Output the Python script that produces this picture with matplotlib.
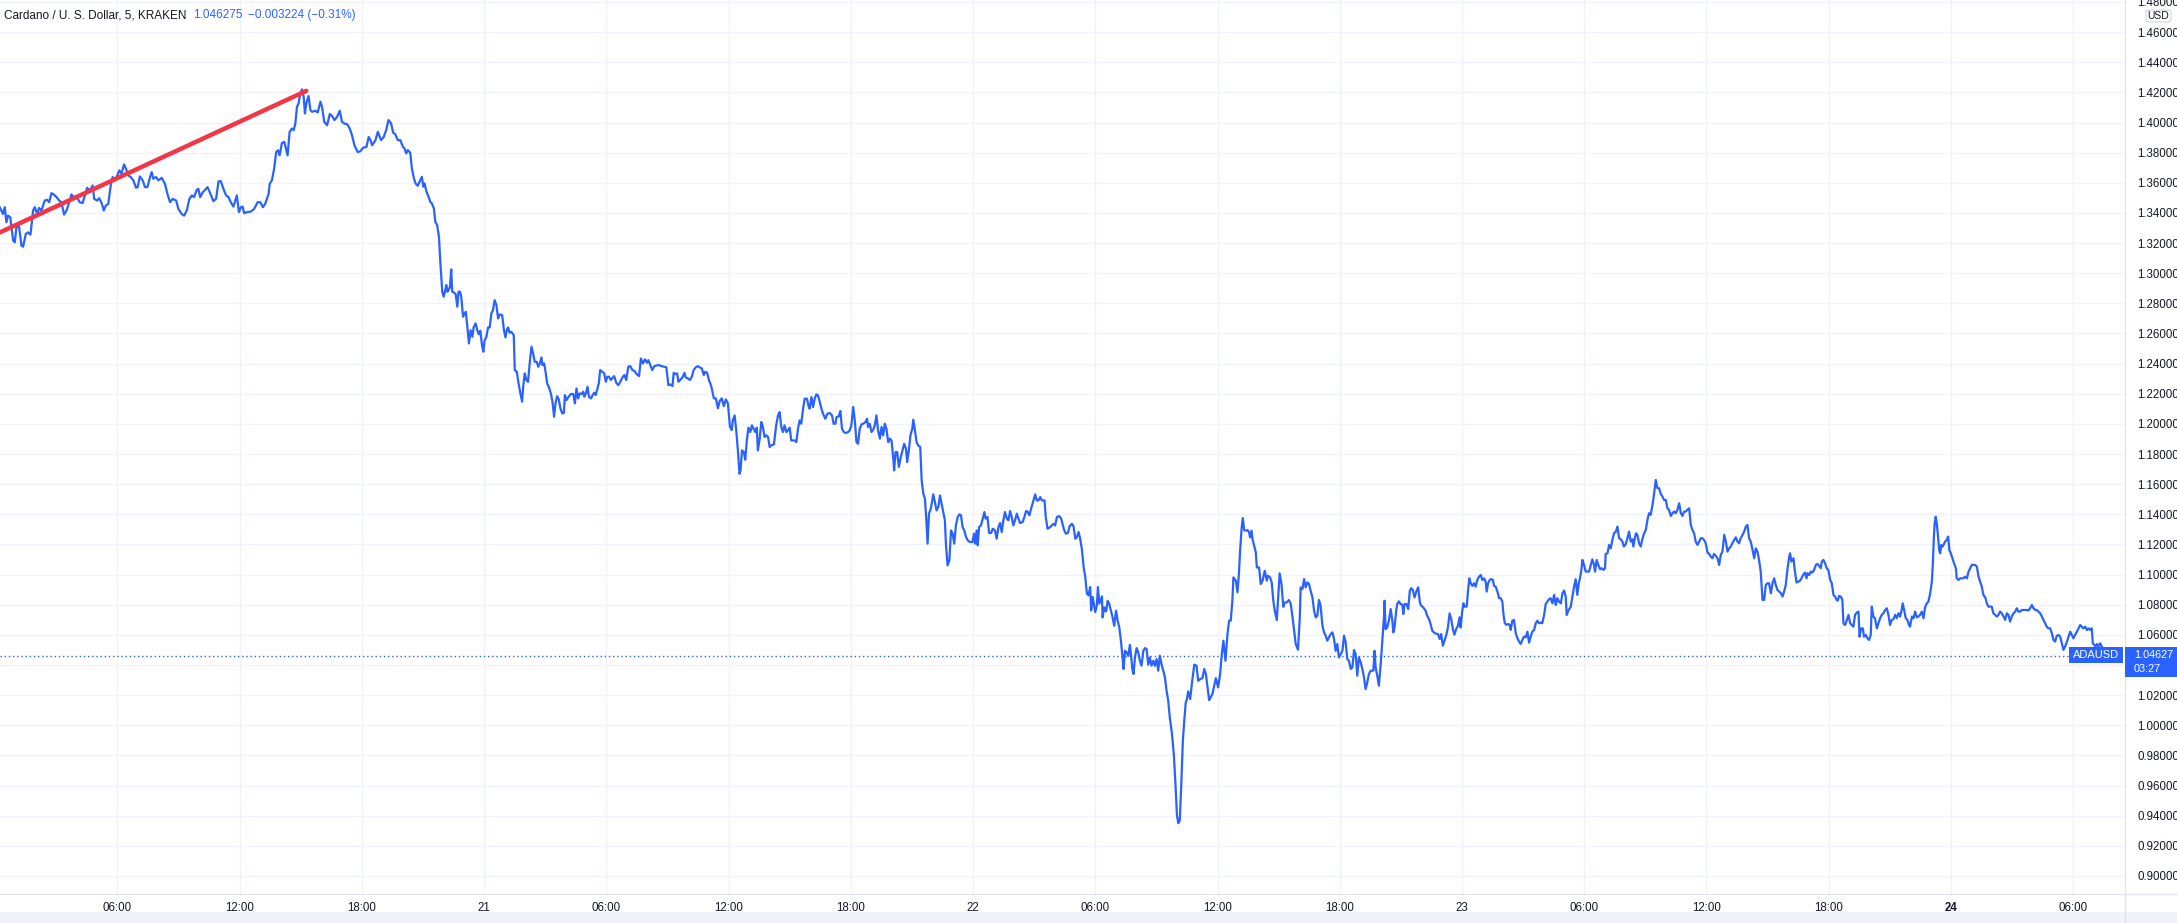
import matplotlib
matplotlib.use("Agg")
import matplotlib.pyplot as plt
from matplotlib.patches import Rectangle, FancyBboxPatch
from matplotlib.lines import Line2D

# ADA/USD 5-minute closes (hours since day 20 00:00)
hours = [
    # day 20
    0.23, 0.39, 0.48, 0.56, 0.64, 0.75, 0.89, 0.97, 1.05, 1.18, 1.30, 1.38, 1.51, 1.62, 1.74, 1.87, 1.95,
    2.07, 2.16, 2.28, 2.44, 2.56, 2.66, 2.77, 2.89, 3.02, 3.15, 3.26, 3.39, 3.51, 3.67, 3.75, 3.87, 4.00,
    4.16, 4.30, 4.41, 4.52, 4.66, 4.79, 4.87, 5.02, 5.11, 5.23, 5.34, 5.44, 5.56, 5.69, 5.77, 5.87, 5.97,
    6.10, 6.21, 6.33, 6.43, 6.54, 6.66, 6.79, 6.92, 7.00, 7.11, 7.25, 7.36, 7.48, 7.61, 7.69, 7.77, 7.90,
    8.02, 8.18, 8.34, 8.46, 8.59, 8.72, 8.89, 9.00, 9.16, 9.28, 9.41, 9.54, 9.66, 9.77, 9.90, 9.98, 10.07,
    10.20, 10.31, 10.43, 10.56, 10.72, 10.85, 10.97, 11.08, 11.21, 11.34, 11.46, 11.57, 11.70, 11.87, 11.97,
    12.07, 12.15, 12.23, 12.36, 12.56, 12.72, 12.89, 13.02, 13.15, 13.26, 13.43, 13.48, 13.59, 13.70, 13.80,
    13.89, 13.97, 14.08, 14.20, 14.36, 14.46, 14.57, 14.66, 14.74, 14.82, 14.90, 14.98, 15.07, 15.15, 15.21,
    15.28, 15.39, 15.48, 15.56, 15.72, 15.84, 15.97, 16.05, 16.16, 16.30, 16.43, 16.54, 16.66, 16.79, 16.92,
    17.03, 17.15, 17.28, 17.41, 17.52, 17.64, 17.80, 17.93, 18.07, 18.23, 18.34, 18.43, 18.51, 18.67, 18.79,
    18.95, 19.08, 19.20, 19.31, 19.44, 19.54, 19.64, 19.77, 19.89, 20.02, 20.10, 20.18, 20.26, 20.38, 20.46,
    20.56, 20.64, 20.75, 20.84, 20.95, 21.02, 21.08, 21.18, 21.28, 21.36, 21.44, 21.54, 21.61, 21.70, 21.79,
    21.85, 21.90, 21.95, 22.02, 22.10, 22.15, 22.20, 22.26, 22.33, 22.39, 22.44, 22.52, 22.61, 22.69, 22.75,
    22.82, 22.88, 22.97, 23.05, 23.11, 23.18, 23.26, 23.34, 23.43, 23.49, 23.59, 23.67, 23.74, 23.82, 23.90,
    23.97,
    # day 21
    24.03, 24.11, 24.20, 24.28, 24.36, 24.44, 24.52, 24.61, 24.69, 24.77, 24.89, 24.98, 25.05, 25.13,
    25.18, 25.26, 25.34, 25.46, 25.51, 25.61, 25.67, 25.77, 25.87, 25.93, 26.00, 26.08, 26.16, 26.25, 26.33,
    26.41, 26.49, 26.59, 26.66, 26.74, 26.82, 26.87, 26.95, 27.02, 27.10, 27.18, 27.28, 27.36, 27.44, 27.51,
    27.59, 27.67, 27.75, 27.84, 27.92, 27.97, 28.05, 28.13, 28.26, 28.38, 28.46, 28.54, 28.62, 28.70, 28.79,
    28.87, 28.92, 29.00, 29.08, 29.15, 29.25, 29.33, 29.41, 29.48, 29.57, 29.64, 29.70, 29.80, 29.90, 29.98,
    30.05, 30.13, 30.23, 30.29, 30.39, 30.49, 30.59, 30.69, 30.79, 30.89, 30.98, 31.08, 31.18, 31.28, 31.38,
    31.49, 31.61, 31.70, 31.80, 31.90, 32.00, 32.07, 32.16, 32.26, 32.36, 32.48, 32.59, 32.72, 32.85, 32.95,
    33.05, 33.15, 33.25, 33.31, 33.38, 33.48, 33.54, 33.62, 33.74, 33.84, 33.90, 34.00, 34.10, 34.20, 34.29,
    34.39, 34.49, 34.59, 34.69, 34.79, 34.85, 34.95, 35.05, 35.11, 35.18, 35.28, 35.38, 35.48, 35.57, 35.67,
    35.77, 35.87, 35.97, 36.07, 36.16, 36.21, 36.30, 36.38, 36.46, 36.54, 36.59, 36.66, 36.75, 36.82, 36.90,
    36.98, 37.07, 37.15, 37.23, 37.31, 37.39, 37.44, 37.53, 37.61, 37.69, 37.77, 37.85, 37.94, 38.02, 38.10,
    38.23, 38.34, 38.43, 38.51, 38.59, 38.67, 38.75, 38.84, 38.92, 39.00, 39.08, 39.16, 39.25, 39.33, 39.41,
    39.49, 39.57, 39.66, 39.74, 39.85, 39.94, 39.98, 40.07, 40.15, 40.23, 40.31, 40.39, 40.48, 40.56, 40.64,
    40.75, 40.85, 40.97, 41.08, 41.16, 41.25, 41.30, 41.41, 41.49, 41.57, 41.66, 41.75, 41.87, 41.95, 42.03,
    42.12, 42.20, 42.28, 42.36, 42.44, 42.53, 42.61, 42.72, 42.80, 42.85, 42.93, 43.02, 43.10, 43.18, 43.26,
    43.34, 43.43, 43.51, 43.59, 43.67, 43.75, 43.84, 43.92, 44.00, 44.08, 44.13, 44.20, 44.28, 44.36, 44.44,
    44.54, 44.62, 44.71, 44.77, 44.85, 44.93, 45.02, 45.07, 45.15, 45.23, 45.31, 45.41, 45.48, 45.56, 45.64,
    45.71, 45.77, 45.84, 45.93, 46.05, 46.13, 46.21, 46.30, 46.38, 46.46, 46.54, 46.62, 46.67, 46.75, 46.84,
    46.92, 47.00, 47.08, 47.16, 47.25, 47.33, 47.41, 47.49, 47.57, 47.66, 47.74, 47.85, 47.97,
    # day 22
    48.05, 48.10, 48.18, 48.23, 48.30, 48.39, 48.48, 48.56, 48.62, 48.71, 48.79, 48.89, 48.97, 49.08,
    49.16, 49.25, 49.33, 49.41, 49.49, 49.57, 49.66, 49.74, 49.82, 49.90, 49.98, 50.07, 50.15, 50.23, 50.31,
    50.44, 50.52, 50.61, 50.69, 50.77, 50.85, 50.97, 51.05, 51.13, 51.21, 51.30, 51.38, 51.51, 51.57, 51.66,
    51.79, 51.87, 51.95, 52.03, 52.12, 52.23, 52.33, 52.39, 52.48, 52.56, 52.66, 52.74, 52.85, 52.93, 53.02,
    53.10, 53.18, 53.26, 53.34, 53.43, 53.51, 53.59, 53.67, 53.75, 53.80, 53.87, 53.93, 54.00, 54.08, 54.13,
    54.20, 54.26, 54.33, 54.36, 54.44, 54.53, 54.61, 54.69, 54.77, 54.85, 54.93, 55.02, 55.10, 55.18, 55.26,
    55.34, 55.39, 55.46, 55.54, 55.62, 55.70, 55.75, 55.82, 55.88, 55.95, 56.03, 56.11, 56.19, 56.27, 56.36,
    56.44, 56.52, 56.60, 56.68, 56.76, 56.85, 56.93, 57.01, 57.09, 57.17, 57.25, 57.34, 57.42, 57.50, 57.58,
    57.66, 57.76, 57.86, 57.94, 58.01, 58.08, 58.15, 58.22, 58.30, 58.38, 58.44, 58.50, 58.56, 58.66, 58.74,
    58.86, 58.97, 59.05, 59.15, 59.26, 59.35, 59.43, 59.51, 59.59, 59.75, 59.92, 60.03, 60.13, 60.21, 60.29,
    60.39, 60.49, 60.57, 60.65, 60.73, 60.78, 60.90, 60.98, 61.05, 61.11, 61.18, 61.24, 61.31, 61.39, 61.47,
    61.55, 61.60, 61.67, 61.72, 61.80, 61.88, 61.93, 62.04, 62.12, 62.21, 62.32, 62.42, 62.48, 62.58, 62.66,
    62.74, 62.81, 62.91, 62.97, 63.05, 63.14, 63.23, 63.30, 63.40, 63.50, 63.59, 63.68, 63.76, 63.84, 63.95,
    64.04, 64.08, 64.17, 64.25, 64.33, 64.41, 64.49, 64.57, 64.66, 64.74, 64.82, 64.90, 64.98, 65.06, 65.15,
    65.23, 65.31, 65.39, 65.47, 65.55, 65.64, 65.72, 65.80, 65.88, 65.96, 66.05, 66.13, 66.21, 66.29, 66.37,
    66.45, 66.54, 66.62, 66.70, 66.78, 66.86, 66.94, 67.03, 67.11, 67.19, 67.27, 67.35, 67.43, 67.52, 67.65,
    67.71, 67.76, 67.84, 67.92, 68.01, 68.09, 68.17, 68.20, 68.25, 68.33, 68.41, 68.50, 68.58, 68.63, 68.69,
    68.77, 68.82, 68.90, 68.99, 69.07, 69.12, 69.18, 69.28, 69.36, 69.44, 69.51, 69.59, 69.67, 69.77, 69.85,
    69.93, 70.00, 70.10, 70.21, 70.29, 70.38, 70.46, 70.54, 70.62, 70.70, 70.82, 70.91, 70.98, 71.06, 71.14,
    71.22, 71.31, 71.39, 71.47, 71.55, 71.63, 71.71, 71.80, 71.88, 71.93,
    # day 23
    72.02, 72.07, 72.13, 72.23, 72.30, 72.36, 72.43, 72.51, 72.59, 72.67, 72.75, 72.84, 72.92, 73.00,
    73.08, 73.16, 73.21, 73.28, 73.36, 73.44, 73.52, 73.57, 73.65, 73.74, 73.82, 73.90, 73.98, 74.03, 74.10,
    74.18, 74.26, 74.34, 74.39, 74.47, 74.55, 74.64, 74.72, 74.80, 74.88, 74.96, 75.04, 75.13, 75.21, 75.29,
    75.37, 75.45, 75.54, 75.62, 75.70, 75.78, 75.86, 75.94, 76.03, 76.11, 76.19, 76.27, 76.35, 76.44, 76.52,
    76.60, 76.68, 76.76, 76.85, 76.93, 77.01, 77.09, 77.14, 77.22, 77.34, 77.42, 77.50, 77.58, 77.66, 77.73,
    77.79, 77.86, 77.91, 77.99, 78.07, 78.15, 78.24, 78.32, 78.40, 78.48, 78.53, 78.61, 78.69, 78.78, 78.86,
    78.94, 79.02, 79.05, 79.14, 79.22, 79.30, 79.38, 79.46, 79.55, 79.63, 79.71, 79.79, 79.87, 79.95, 80.04,
    80.12, 80.20, 80.28, 80.36, 80.41, 80.48, 80.54, 80.61, 80.69, 80.77, 80.85, 80.94, 81.02, 81.10, 81.18,
    81.26, 81.35, 81.43, 81.51, 81.59, 81.67, 81.76, 81.84, 81.92, 82.00, 82.08, 82.16, 82.25, 82.33, 82.41,
    82.49, 82.57, 82.66, 82.74, 82.82, 82.90, 82.98, 83.06, 83.15, 83.23, 83.31, 83.39, 83.47, 83.56, 83.64,
    83.72, 83.80, 83.88, 83.96, 84.05, 84.13, 84.21, 84.29, 84.37, 84.46, 84.54, 84.62, 84.70, 84.78, 84.87,
    84.95, 85.03, 85.11, 85.19, 85.27, 85.36, 85.44, 85.52, 85.60, 85.68, 85.77, 85.85, 85.93, 86.01, 86.09,
    86.17, 86.26, 86.34, 86.42, 86.50, 86.58, 86.66, 86.75, 86.83, 86.91, 86.99, 87.07, 87.16, 87.24, 87.32,
    87.40, 87.48, 87.57, 87.65, 87.73, 87.81, 87.89, 87.97, 88.06, 88.10, 88.17, 88.27, 88.33, 88.42, 88.50,
    88.58, 88.66, 88.74, 88.83, 88.91, 88.96, 89.04, 89.12, 89.20, 89.28, 89.37, 89.45, 89.53, 89.61, 89.66,
    89.74, 89.82, 89.90, 89.98, 90.07, 90.15, 90.23, 90.31, 90.39, 90.44, 90.51, 90.59, 90.67, 90.72, 90.80,
    90.88, 90.97, 91.05, 91.13, 91.21, 91.29, 91.37, 91.46, 91.51, 91.59, 91.67, 91.73, 91.82, 91.90, 91.98,
    92.06, 92.11, 92.19, 92.27, 92.36, 92.44, 92.52, 92.60, 92.68, 92.77, 92.85, 92.93, 93.01, 93.09, 93.17,
    93.26, 93.34, 93.42, 93.50, 93.58, 93.63, 93.70, 93.78, 93.86, 93.94, 93.99, 94.08, 94.16, 94.24, 94.32,
    94.40, 94.48, 94.57, 94.65, 94.73, 94.81, 94.89, 94.98, 95.06, 95.11, 95.16, 95.20, 95.25, 95.30, 95.35,
    95.42, 95.47, 95.52, 95.58, 95.63, 95.71, 95.79, 95.86, 95.92, 95.99,
    # day 24
    96.07, 96.15, 96.24, 96.28, 96.37, 96.45, 96.53, 96.61, 96.69, 96.78, 96.86, 96.94, 97.02, 97.10,
    97.18, 97.27, 97.35, 97.43, 97.51, 97.59, 97.68, 97.76, 97.84, 97.92, 98.00, 98.08, 98.17, 98.25, 98.33,
    98.41, 98.49, 98.58, 98.66, 98.74, 98.82, 98.90, 98.98, 99.07, 99.15, 99.23, 99.31, 99.39, 99.48, 99.56,
    99.64, 99.72, 99.80, 99.88, 99.97, 100.05, 100.13, 100.21, 100.29, 100.38, 100.46, 100.54, 100.62,
    100.70, 100.78, 100.87, 100.95, 101.03, 101.11, 101.19, 101.28, 101.36, 101.44, 101.52, 101.60, 101.69,
    101.77, 101.85, 101.93, 102.01, 102.09, 102.18, 102.26, 102.34, 102.42, 102.50, 102.59, 102.67, 102.75,
    102.83, 102.91, 102.96, 103.03, 103.09, 103.16, 103.24, 103.32, 103.40, 103.45, 103.55,
]

close = [
    # day 20
    1.3438, 1.3393, 1.3438, 1.3338, 1.3382, 1.3371, 1.3216, 1.3205, 1.3304, 1.3309, 1.3182, 1.3176, 1.3260,
    1.3271, 1.3256, 1.3416, 1.3438, 1.3393, 1.3433, 1.3416, 1.3482, 1.3487, 1.3471, 1.3531, 1.3522, 1.3505,
    1.3482, 1.3471, 1.3389, 1.3416, 1.3482, 1.3522, 1.3505, 1.3509, 1.3471, 1.3465, 1.3516, 1.3567, 1.3549,
    1.3582, 1.3493, 1.3482, 1.3498, 1.3467, 1.3416, 1.3449, 1.3460, 1.3593, 1.3638, 1.3616, 1.3638, 1.3682,
    1.3660, 1.3722, 1.3693, 1.3649, 1.3638, 1.3616, 1.3567, 1.3571, 1.3642, 1.3616, 1.3571, 1.3571, 1.3638,
    1.3671, 1.3627, 1.3638, 1.3616, 1.3633, 1.3593, 1.3527, 1.3471, 1.3493, 1.3482, 1.3427, 1.3393, 1.3382,
    1.3416, 1.3493, 1.3516, 1.3505, 1.3553, 1.3560, 1.3505, 1.3538, 1.3553, 1.3571, 1.3531, 1.3478, 1.3493,
    1.3609, 1.3611, 1.3560, 1.3516, 1.3505, 1.3471, 1.3442, 1.3516, 1.3405, 1.3438, 1.3442, 1.3398, 1.3405,
    1.3409, 1.3427, 1.3471, 1.3471, 1.3438, 1.3460, 1.3527, 1.3593, 1.3616, 1.3693, 1.3804, 1.3816, 1.3782,
    1.3864, 1.3871, 1.3782, 1.3938, 1.3960, 1.3949, 1.3993, 1.4104, 1.4127, 1.4193, 1.4220, 1.4171, 1.4060,
    1.4127, 1.4176, 1.4082, 1.4071, 1.4078, 1.4067, 1.4138, 1.4104, 1.4004, 1.3982, 1.4056, 1.4044, 1.4016,
    1.4038, 1.4078, 1.4004, 1.3993, 1.3989, 1.3960, 1.3916, 1.3849, 1.3804, 1.3809, 1.3833, 1.3838, 1.3904,
    1.3882, 1.3849, 1.3882, 1.3938,
    1.3883, 1.3905, 1.3950, 1.4016, 1.3994, 1.3932, 1.3923, 1.3883, 1.3883, 1.3839, 1.3828, 1.3795, 1.3817,
    1.3799, 1.3695, 1.3629, 1.3596, 1.3580, 1.3607, 1.3640, 1.3574, 1.3596, 1.3540, 1.3507, 1.3474, 1.3463,
    1.3430, 1.3341, 1.3319, 1.3242, 1.3087, 1.2976, 1.2877, 1.2844, 1.2888, 1.2921, 1.2877, 1.2888, 1.2910,
    1.3025, 1.2877, 1.2872, 1.2861, 1.2777, 1.2877, 1.2877, 1.2848, 1.2711, 1.2733, 1.2744, 1.2644, 1.2534,
    1.2622, 1.2578, 1.2640, 1.2667, 1.2622, 1.2596, 1.2618, 1.2523, 1.2479,
    # day 21
    1.2556, 1.2574, 1.2640, 1.2640, 1.2733, 1.2755, 1.2821, 1.2788, 1.2700, 1.2726, 1.2722, 1.2622, 1.2574,
    1.2627, 1.2640, 1.2605, 1.2611, 1.2589, 1.2357, 1.2346, 1.2291, 1.2213, 1.2147, 1.2257, 1.2335, 1.2291,
    1.2279, 1.2412, 1.2512, 1.2468, 1.2412, 1.2412, 1.2379, 1.2401, 1.2441, 1.2390, 1.2401, 1.2346, 1.2268,
    1.2246, 1.2202, 1.2147, 1.2047, 1.2136, 1.2184, 1.2162, 1.2103, 1.2069, 1.2074, 1.2191, 1.2158, 1.2176,
    1.2198, 1.2198, 1.2136, 1.2235, 1.2169, 1.2202, 1.2198, 1.2213, 1.2180, 1.2202, 1.2246, 1.2180, 1.2169,
    1.2191, 1.2207, 1.2191, 1.2235, 1.2273, 1.2357, 1.2346, 1.2335, 1.2279, 1.2313, 1.2313, 1.2291, 1.2302,
    1.2317, 1.2273, 1.2257, 1.2279, 1.2308, 1.2324, 1.2291, 1.2379, 1.2383, 1.2357, 1.2352, 1.2330, 1.2317,
    1.2434, 1.2401, 1.2428, 1.2406, 1.2423, 1.2390, 1.2357, 1.2383, 1.2388, 1.2390, 1.2383, 1.2379, 1.2375,
    1.2257, 1.2262, 1.2251, 1.2339, 1.2330, 1.2335, 1.2279, 1.2291, 1.2308, 1.2339, 1.2308, 1.2302, 1.2291,
    1.2313, 1.2357, 1.2375, 1.2383, 1.2375, 1.2368, 1.2324, 1.2346, 1.2339, 1.2286, 1.2268, 1.2235, 1.2169,
    1.2169, 1.2103, 1.2153, 1.2169, 1.2118, 1.2162, 1.2136, 1.1981, 1.1959, 1.2023, 1.2056, 1.1957, 1.1824,
    1.1669, 1.1691, 1.1824, 1.1813, 1.1762, 1.1890, 1.1975, 1.1946, 1.1990, 1.1968, 1.1946, 1.1975, 1.1824,
    1.1902, 1.2012, 1.1979, 1.1913, 1.1924, 1.1913, 1.1846, 1.1857, 1.1864, 1.1990, 1.2056, 1.2078, 1.1979,
    1.1946, 1.1990, 1.1946, 1.1957, 1.1975, 1.1890, 1.1890, 1.1890, 1.1879, 1.1968, 1.2023, 1.2001, 1.2101,
    1.2167, 1.2167, 1.2112, 1.2101, 1.2178, 1.2112, 1.2167, 1.2196, 1.2189, 1.2145, 1.2101, 1.2067, 1.2034,
    1.2067, 1.2072, 1.2056, 1.2001, 1.2001, 1.2045, 1.2050, 1.2085, 1.1968, 1.1946, 1.1939, 1.1946, 1.1957,
    1.1990, 1.2112, 1.2023, 1.1879, 1.1868, 1.1968, 1.1997, 1.2001, 1.2012, 1.2034, 1.1979, 1.2001, 1.1946,
    1.1961, 1.1990, 1.2056, 1.1957, 1.1902, 1.1979, 1.1924, 1.2001, 1.1968, 1.1879, 1.1902, 1.1890, 1.1780,
    1.1691, 1.1813, 1.1813, 1.1714, 1.1769, 1.1824, 1.1868, 1.1835, 1.1747, 1.1824, 1.1924, 1.1968, 1.2028,
    1.1957, 1.1879, 1.1857, 1.1846, 1.1625, 1.1537, 1.1503, 1.1360, 1.1205, 1.1404, 1.1437, 1.1532, 1.1481,
    1.1426, 1.1448, 1.1525, 1.1470, 1.1415, 1.1360, 1.1205, 1.1061, 1.1094, 1.1293, 1.1271, 1.1205, 1.1326,
    1.1382, 1.1399, 1.1393, 1.1315, 1.1293, 1.1249, 1.1227, 1.1216, 1.1216,
    # day 22
    1.1271, 1.1205, 1.1293, 1.1194, 1.1315, 1.1326, 1.1371, 1.1415, 1.1371, 1.1382, 1.1276, 1.1276, 1.1304,
    1.1293, 1.1238, 1.1315, 1.1342, 1.1282, 1.1360, 1.1415, 1.1371, 1.1360, 1.1422, 1.1382, 1.1326, 1.1364,
    1.1404, 1.1371, 1.1342, 1.1349, 1.1382, 1.1422, 1.1415, 1.1393, 1.1437, 1.1492, 1.1532, 1.1492, 1.1492,
    1.1514, 1.1492, 1.1492, 1.1382, 1.1304, 1.1315, 1.1326, 1.1337, 1.1326, 1.1382, 1.1388, 1.1371, 1.1337,
    1.1293, 1.1271, 1.1276, 1.1320, 1.1337, 1.1322, 1.1238, 1.1249, 1.1282, 1.1238, 1.1172, 1.1050, 1.0984,
    1.0873, 1.0862, 1.0917, 1.0762, 1.0851, 1.0807, 1.0751, 1.0796, 1.0917, 1.0807, 1.0829, 1.0855, 1.0716,
    1.0782, 1.0755, 1.0826, 1.0804, 1.0760, 1.0716, 1.0660, 1.0760, 1.0694, 1.0649, 1.0561, 1.0450, 1.0373,
    1.0494, 1.0483, 1.0461, 1.0534, 1.0472, 1.0373, 1.0340, 1.0450, 1.0512, 1.0483, 1.0428, 1.0395, 1.0494,
    1.0512, 1.0505, 1.0402, 1.0450, 1.0395, 1.0428, 1.0395, 1.0439, 1.0362, 1.0461, 1.0406, 1.0362, 1.0317,
    1.0229, 1.0163, 1.0050, 0.9950, 0.9800, 0.9600, 0.9400, 0.9350, 0.9370, 0.9600, 0.9900, 1.0050, 1.0150,
    1.0174, 1.0225, 1.0174, 1.0273, 1.0402, 1.0395, 1.0295, 1.0306, 1.0313, 1.0373, 1.0340, 1.0251, 1.0167,
    1.0207, 1.0313, 1.0251, 1.0340, 1.0472, 1.0561, 1.0428, 1.0605, 1.0694, 1.0694, 1.0826, 1.0981, 1.0959,
    1.0882, 1.1003, 1.1158, 1.1302, 1.1375, 1.1295, 1.1291, 1.1295, 1.1280, 1.1247, 1.1291, 1.1235, 1.1191,
    1.1147, 1.1047, 1.1047, 1.0937, 1.0959, 1.1025, 1.0959, 1.0992, 1.0981, 1.0948, 1.0826, 1.0760, 1.0698,
    1.0826, 1.1008, 1.0937, 1.0786, 1.0815, 1.0815, 1.0831, 1.0809, 1.0720, 1.0627, 1.0539, 1.0501, 1.0716,
    1.0915, 1.0904, 1.0970, 1.0915, 1.0948, 1.0937, 1.0893, 1.0848, 1.0760, 1.0716, 1.0727, 1.0831, 1.0793,
    1.0660, 1.0616, 1.0594, 1.0561, 1.0583, 1.0605, 1.0616, 1.0572, 1.0494, 1.0539, 1.0450, 1.0472, 1.0494,
    1.0594, 1.0550, 1.0439, 1.0428, 1.0373, 1.0384, 1.0499, 1.0472, 1.0329, 1.0450, 1.0417, 1.0373, 1.0317,
    1.0240, 1.0284, 1.0340, 1.0362, 1.0362, 1.0494, 1.0384, 1.0329, 1.0262, 1.0406, 1.0561, 1.0716, 1.0826,
    1.0638, 1.0649, 1.0694, 1.0771, 1.0694, 1.0616, 1.0649, 1.0760, 1.0804, 1.0822, 1.0804, 1.0800, 1.0738,
    1.0804, 1.0804, 1.0771, 1.0893, 1.0910, 1.0897, 1.0848, 1.0893, 1.0915, 1.0815, 1.0793, 1.0782, 1.0760,
    1.0727, 1.0705, 1.0671, 1.0627, 1.0616, 1.0609, 1.0605, 1.0572, 1.0605, 1.0528, 1.0561, 1.0594, 1.0649,
    1.0742, 1.0705, 1.0638, 1.0601, 1.0638, 1.0660, 1.0716, 1.0649,
    # day 23
    1.0765, 1.0809, 1.0787, 1.0787, 1.0898, 1.0975, 1.0942, 1.0925, 1.0942, 1.0920, 1.0964, 1.0986, 1.0997,
    1.0964, 1.0975, 1.0953, 1.0887, 1.0942, 1.0964, 1.0970, 1.0964, 1.0925, 1.0920, 1.0887, 1.0843, 1.0843,
    1.0821, 1.0743, 1.0677, 1.0666, 1.0672, 1.0666, 1.0633, 1.0694, 1.0699, 1.0610, 1.0577, 1.0555, 1.0540,
    1.0566, 1.0588, 1.0584, 1.0621, 1.0548, 1.0588, 1.0621, 1.0633, 1.0677, 1.0694, 1.0677, 1.0681, 1.0677,
    1.0732, 1.0805, 1.0821, 1.0836, 1.0843, 1.0809, 1.0865, 1.0798, 1.0843, 1.0821, 1.0809, 1.0876, 1.0894,
    1.0854, 1.0732, 1.0761, 1.0787, 1.0854, 1.0920, 1.0969, 1.0865, 1.0942, 1.0975, 1.1031, 1.1097, 1.1064,
    1.1020, 1.1020, 1.1020, 1.1064, 1.1101, 1.1064, 1.1020, 1.1097, 1.1064, 1.1035, 1.1042, 1.1031, 1.1042,
    1.1137, 1.1141, 1.1197, 1.1174, 1.1230, 1.1274, 1.1285, 1.1318, 1.1241, 1.1234, 1.1219, 1.1186, 1.1203,
    1.1241, 1.1285, 1.1219, 1.1234, 1.1186, 1.1241, 1.1274, 1.1263, 1.1208, 1.1186, 1.1234, 1.1274, 1.1296,
    1.1362, 1.1407, 1.1396, 1.1462, 1.1539, 1.1628, 1.1573, 1.1573, 1.1535, 1.1517, 1.1495, 1.1495, 1.1440,
    1.1429, 1.1389, 1.1407, 1.1418, 1.1407, 1.1429, 1.1473, 1.1407, 1.1389, 1.1418, 1.1418, 1.1429, 1.1440,
    1.1329, 1.1296, 1.1274, 1.1219, 1.1197, 1.1219, 1.1241, 1.1241, 1.1230, 1.1208, 1.1146, 1.1137, 1.1119,
    1.1108, 1.1137, 1.1124, 1.1108, 1.1064, 1.1130, 1.1152, 1.1263, 1.1219, 1.1152, 1.1174, 1.1186, 1.1208,
    1.1230, 1.1247, 1.1219, 1.1208, 1.1241, 1.1263, 1.1285, 1.1318, 1.1329, 1.1241, 1.1219, 1.1163, 1.1108,
    1.1174, 1.1152, 1.1097, 1.1020, 1.0832, 1.0832, 1.0931, 1.0942, 1.0942, 1.0876, 1.0942, 1.0975, 1.0931,
    1.0898, 1.0887, 1.0876, 1.0854, 1.0887, 1.0931, 1.1031, 1.1119, 1.1141, 1.1086, 1.1108, 1.1031, 1.0947,
    1.0953, 1.0958, 1.0975, 1.0997, 1.1013, 1.0975, 1.1009, 1.0997, 1.1020, 1.1013, 1.1031, 1.1064, 1.1071,
    1.1058, 1.1042, 1.1086, 1.1097, 1.1075, 1.1042, 1.1030, 1.0964, 1.0942, 1.0865, 1.0854, 1.0831, 1.0827,
    1.0858, 1.0854, 1.0831, 1.0677, 1.0665, 1.0694, 1.0732, 1.0677, 1.0665, 1.0654, 1.0732, 1.0747, 1.0754,
    1.0588, 1.0643, 1.0643, 1.0588, 1.0599, 1.0577, 1.0566, 1.0599, 1.0787, 1.0721, 1.0710, 1.0643, 1.0677,
    1.0710, 1.0732, 1.0743, 1.0765, 1.0776, 1.0732, 1.0665, 1.0699, 1.0703, 1.0732, 1.0710, 1.0743, 1.0721,
    1.0765, 1.0809, 1.0765, 1.0710, 1.0699, 1.0665, 1.0654, 1.0721, 1.0710, 1.0754, 1.0716, 1.0721, 1.0732,
    1.0754, 1.0710, 1.0783, 1.0809, 1.0820, 1.0876, 1.0953, 1.1075, 1.1252, 1.1340, 1.1384, 1.1340, 1.1274,
    1.1163, 1.1141, 1.1196, 1.1185, 1.1196, 1.1218, 1.1230, 1.1252, 1.1163, 1.1141,
    # day 24
    1.1108, 1.1075, 1.1042, 1.0975, 1.0964, 1.0975, 1.0975, 1.0975, 1.0986, 1.0975, 1.1019, 1.1042, 1.1064,
    1.1064, 1.1064, 1.1053, 1.0986, 1.0953, 1.0920, 1.0865, 1.0849, 1.0809, 1.0787, 1.0787, 1.0787, 1.0743,
    1.0732, 1.0721, 1.0732, 1.0754, 1.0743, 1.0721, 1.0699, 1.0743, 1.0732, 1.0688, 1.0721, 1.0743, 1.0754,
    1.0776, 1.0754, 1.0754, 1.0765, 1.0765, 1.0765, 1.0765, 1.0761, 1.0776, 1.0798, 1.0776, 1.0765, 1.0765,
    1.0754, 1.0743, 1.0721, 1.0699, 1.0677, 1.0654, 1.0643, 1.0643, 1.0610, 1.0566, 1.0555, 1.0593, 1.0599,
    1.0588, 1.0544, 1.0500, 1.0522, 1.0555, 1.0588, 1.0621, 1.0599, 1.0577, 1.0599, 1.0621, 1.0643, 1.0665,
    1.0654, 1.0643, 1.0654, 1.0632, 1.0643, 1.0632, 1.0643, 1.0544, 1.0533, 1.0522, 1.0539, 1.0522, 1.0544,
    1.0522, 1.0511, 1.046275,
]

# drawn trend line (start / end)
trend_hours = [0.245, 15.28]
trend_price = [1.3271, 1.4210]

last_price = 1.046275
change = -0.003224
change_pct = -0.31
countdown = "03:27"

xtick_hours = [6, 12, 18, 24, 30, 36, 42, 48, 54, 60, 66, 72, 78, 84, 90, 96, 102]
xtick_labels = ["06:00", "12:00", "18:00", "21", "06:00", "12:00", "18:00", "22",
                "06:00", "12:00", "18:00", "23", "06:00", "12:00", "18:00", "24", "06:00"]
ytick_values = [0.90 + 0.02 * i for i in range(30)]

W, H = 2177, 923
BLUE = "#2962ff"
TEXT = "#131722"
GRID = "#f0f3fa"
LINE = "#e0e3eb"

plt.rcParams['font.family'] = ['Liberation Sans', 'DejaVu Sans']

fig = plt.figure(figsize=(W / 100, H / 100), dpi=100)
ax = fig.add_axes([0, 1 - 894 / H, 2125 / W, 894 / H])

ax.plot(hours, close, color=BLUE, lw=1.6, solid_joinstyle='round', zorder=3)
ax.plot(trend_hours, trend_price, color="#f23645", lw=3.2, solid_capstyle='round', zorder=4)
ax.axhline(last_price, color=BLUE, lw=1.0, ls=(0, (1, 2)), zorder=2)

ax.set_xlim(0.245, 104.54)
ax.set_ylim(0.888, 1.4813)

ax.set_xticks(xtick_hours)
ax.set_xticklabels(xtick_labels)
ax.set_yticks(ytick_values)
# the scale label nearest the last price sits under the price badge, so it is left blank
ax.set_yticklabels(["" if abs(v - last_price) < 0.01 else f"{v:.5f}" for v in ytick_values])
ax.yaxis.tick_right()
ax.tick_params(axis='y', length=0, pad=9, labelsize=8.3, labelcolor=TEXT)
ax.tick_params(axis='x', length=0, pad=6, labelsize=8.3, labelcolor=TEXT)
for lab in ax.get_xticklabels():
    if lab.get_text() == "24":
        lab.set_fontweight('bold')

ax.grid(True, color=GRID, lw=1.0, zorder=0)
for s in ['top', 'left']:
    ax.spines[s].set_visible(False)
ax.spines['right'].set_color(LINE)
ax.spines['bottom'].set_color(LINE)


def px(x, y):
    return x / W, 1 - y / H


# bottom axis line under the price scale, and the bottom strip
fig.add_artist(Line2D([2125 / W, 1], [1 - 894 / H] * 2, color=LINE, lw=1.0))
fig.add_artist(Line2D([2125 / W] * 2, [1 - 923 / H, 1 - 894 / H], color=LINE, lw=1.0))
fig.add_artist(Rectangle(px(0, 923), 1, 11 / H, transform=fig.transFigure,
                         facecolor=GRID, edgecolor='none'))

# title line
fig.text(*px(4, 15), "Cardano / U. S. Dollar, 5, KRAKEN", fontsize=8.5, color=TEXT, va='center')
fig.text(*px(193, 15), f"{last_price:.6f}", fontsize=8.5, color=BLUE, va='center')
fig.text(*px(248, 15), f"\u2212{abs(change):.6f} (\u2212{abs(change_pct):.2f}%)",
         fontsize=8.5, color=BLUE, va='center')

# USD badge on the price scale
fig.add_artist(FancyBboxPatch(px(2146, 22), 25 / W, 12 / H, transform=fig.transFigure,
                              boxstyle="round,pad=0,rounding_size=0.002",
                              facecolor='white', edgecolor='#d1d4dc', lw=0.8))
fig.text(*px(2158.5, 16), "USD", fontsize=7.5, color=TEXT, ha='center', va='center')

# series name label and last-price label (price scale shows it truncated to 5 decimals)
price_text = str(last_price)[:7]
fig.add_artist(Rectangle(px(2069, 663), 54 / W, 16 / H, transform=fig.transFigure,
                         facecolor=BLUE, edgecolor='none'))
fig.text(*px(2096, 655), "ADAUSD", fontsize=8.0, color='white', ha='center', va='center')
fig.add_artist(Rectangle(px(2125, 677), 52 / W, 30 / H, transform=fig.transFigure,
                         facecolor=BLUE, edgecolor='none'))
fig.text(*px(2134, 654.5), price_text, fontsize=7.8, color='white', va='center')
fig.text(*px(2134, 669.5), countdown, fontsize=7.8, color='white', va='center')

fig.savefig("out.png", dpi=100, facecolor='white')
